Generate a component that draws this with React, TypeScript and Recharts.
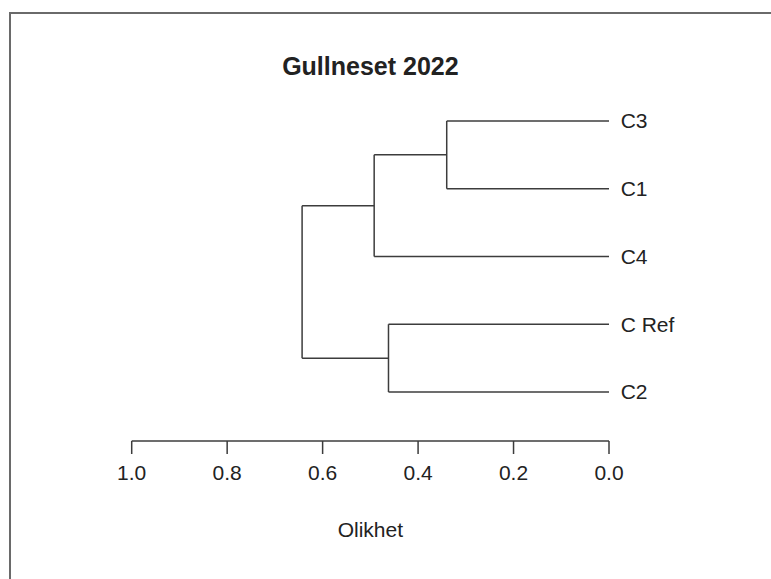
import React from 'react';
import { ComposedChart, XAxis, YAxis, ReferenceLine, Label } from 'recharts';

const title = 'Gullneset 2022';
const xLabel = 'Olikhet';
const leafNames = ['C3', 'C1', 'C4', 'C Ref', 'C2'];
const xTicks = [1.0, 0.8, 0.6, 0.4, 0.2, 0.0];
// merges: children are leaf names or "m<index>" references to earlier merges
const mergeLeft = ['C3', 'C Ref', 'm0', 'm2'];
const mergeRight = ['C1', 'C2', 'C4', 'm1'];
const mergeHeights = [0.34, 0.462, 0.492, 0.643];

const W = 771;
const H = 579;
const FONT = '"Liberation Sans", Arial, Helvetica, sans-serif';
const LINE = '#3c3c3c';
const TEXT = '#222';

type Node = { x: number; y: number };

function buildSegments() {
  const nodes: Record<string, Node> = {};
  leafNames.forEach((n, i) => {
    nodes[n] = { x: 0, y: i + 1 };
  });
  const segs: { x1: number; y1: number; x2: number; y2: number }[] = [];
  mergeHeights.forEach((h, i) => {
    const a = nodes[mergeLeft[i]];
    const b = nodes[mergeRight[i]];
    segs.push({ x1: a.x, y1: a.y, x2: h, y2: a.y });
    segs.push({ x1: b.x, y1: b.y, x2: h, y2: b.y });
    segs.push({ x1: h, y1: a.y, x2: h, y2: b.y });
    nodes['m' + i] = { x: h, y: (a.y + b.y) / 2 };
  });
  return segs;
}

const segments = buildSegments();

export default function App() {
  return (
    <div style={{ position: 'absolute', left: 0, top: 0, width: W, height: H, background: '#fff', overflow: 'hidden' }}>
      <div
        style={{
          position: 'absolute',
          left: 9,
          top: 12,
          width: W - 9,
          height: H - 12,
          borderLeft: '2px solid #6a6a6a',
          borderTop: '2px solid #6a6a6a',
          boxSizing: 'border-box',
        }}
      />
      <div style={{ position: 'absolute', left: 0, top: 0 }}>
        <ComposedChart
          width={W}
          height={H}
          margin={{ top: 87.1, left: 131.7, right: 0, bottom: 38 }}
        >
          <XAxis
            type="number"
            dataKey="x"
            domain={[0, 1]}
            reversed
            ticks={xTicks}
            interval={0}
            tickFormatter={(v: number) => v.toFixed(1)}
            height={100}
            tickSize={13}
            tickMargin={11}
            stroke={LINE}
            strokeWidth={1.5}
            tick={{ fill: TEXT, fontSize: 21, fontFamily: FONT }}
            allowDataOverflow
          >
            <Label
              value={xLabel}
              position="insideBottom"
              offset={4}
              style={{ fill: TEXT, fontSize: 21, fontFamily: FONT }}
            />
          </XAxis>
          <YAxis
            type="number"
            dataKey="y"
            orientation="right"
            domain={[0.5, 5.723]}
            reversed
            ticks={[1, 2, 3, 4, 5]}
            interval={0}
            tickFormatter={(v: number) => leafNames[v - 1] ?? ''}
            width={162}
            axisLine={false}
            tickLine={false}
            tickSize={0}
            tickMargin={11.7}
            tick={{ fill: TEXT, fontSize: 21, fontFamily: FONT, textAnchor: 'start' }}
            allowDataOverflow
          />
          {segments.map((s, i) => (
            <ReferenceLine
              key={i}
              segment={[
                { x: s.x1, y: s.y1 },
                { x: s.x2, y: s.y2 },
              ]}
              stroke={LINE}
              strokeWidth={1.5}
              ifOverflow="visible"
            />
          ))}
          <text
            x={370.4}
            y={75}
            textAnchor="middle"
            fontSize={25}
            fontWeight="bold"
            fontFamily={FONT}
            fill={TEXT}
          >
            {title}
          </text>
        </ComposedChart>
      </div>
    </div>
  );
}
